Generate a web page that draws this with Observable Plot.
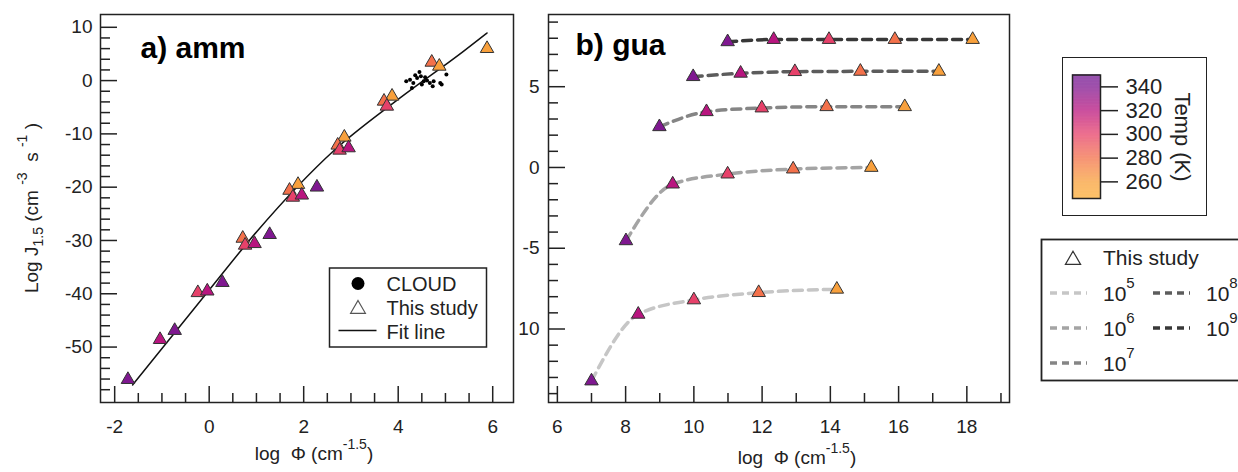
<!DOCTYPE html>
<html><head><meta charset="utf-8">
<script src="https://cdn.jsdelivr.net/npm/d3@7"></script>
<script src="https://cdn.jsdelivr.net/npm/@observablehq/plot@0.6"></script>
<style>
body{margin:0;background:#fff;font-family:"Liberation Sans",Arial,sans-serif;}
#wrap{position:relative;width:1238px;height:472px;overflow:hidden;background:#fff;}
</style></head><body><div id="wrap"></div>
<script>
// ---------------- data ----------------
// temperature colour stops (K)
const tempStops = [246, 260, 280, 300, 320, 340, 350];
const colorStops = ["#fbad37", "#f8a03c", "#f3714b", "#e6416a", "#b8157f", "#7f1890", "#731a94"];

// panel a (amm): this study
const ammPhi  = [5.88, 4.71, 4.87, 3.87, 3.70, 3.76, 2.86, 2.72, 2.76, 2.95, 1.88, 1.70, 1.77, 1.96, 2.28, 0.71, 0.76, 0.96, 1.28, -0.24, -0.04, 0.28, -1.04, -0.73, -1.72];
const ammJ    = [6.0, 3.43, 2.68, -2.94, -3.88, -4.82, -10.63, -12.13, -13.07, -12.63, -19.5, -20.6, -21.9, -21.5, -20.0, -29.6, -30.9, -30.6, -28.9, -39.8, -39.5, -37.9, -48.6, -46.9, -56.1];
const ammTemp = [260, 280, 260, 260, 280, 300, 260, 280, 300, 320, 260, 280, 300, 320, 340, 280, 300, 320, 340, 300, 320, 340, 320, 340, 340];
// panel a: CLOUD
const cloudPhi = [4.17, 4.25, 4.32, 4.40, 4.48, 4.54, 4.61, 4.67, 4.75, 4.89, 4.92, 5.02, 4.29, 4.50, 4.73, 4.45, 4.36, 4.57];
const cloudJ   = [-0.13, 0.18, -0.45, 0.49, 0.81, -0.13, 0.0, -0.45, -0.13, -0.45, -0.75, 1.12, -1.38, -0.75, -1.07, 1.6, 1.0, 0.62];
// panel a: fit line
const fitPhi = [-1.62, 0, 1.01, 2.63, 4.04, 5.38, 5.88];
const fitJ   = [-57.1, -39.3, -28.3, -13.2, -3.25, 5.49, 8.93];

// panel b (gua)
const guaSeries = ["10^5", "10^6", "10^7", "10^8", "10^9"];
const guaTemp = [340, 320, 300, 280, 260];
const guaPhi = [
  [7.0, 8.37, 10.0, 11.9, 14.19],
  [8.01, 9.38, 10.99, 12.91, 15.2],
  [8.99, 10.37, 11.99, 13.89, 16.18],
  [9.98, 11.37, 12.96, 14.88, 17.18],
  [10.99, 12.34, 13.96, 15.89, 18.17]
];
const guaJ = [
  [-13.22, -9.09, -8.2, -7.75, -7.54],
  [-4.54, -1.03, -0.41, -0.10, 0.0],
  [2.52, 3.45, 3.68, 3.76, 3.76],
  [5.62, 5.83, 5.93, 5.95, 5.95],
  [7.78, 7.92, 7.92, 7.92, 7.92]
];

// ticks
const xTicksA = [-2, 0, 2, 4, 6];
const xMinorA = [-1.5, -1, -0.5, 0.5, 1, 1.5, 2.5, 3, 3.5, 4.5, 5, 5.5];
const yTicksA = [10, 0, -10, -20, -30, -40, -50];
const yMinorA = [8, 6, 4, 2, -2, -4, -6, -8, -12, -14, -16, -18, -22, -24, -26, -28, -32, -34, -36, -38, -42, -44, -46, -48, -52, -54, -56, -58];
const xTicksB = [6, 8, 10, 12, 14, 16, 18];
const xMinorB = [7, 9, 11, 13, 15, 17, 19];
const yTicksB = [5, 0, -5, -10];
const yMinorB = [9, 8, 7, 6, 4, 3, 2, 1, -1, -2, -3, -4, -6, -7, -8, -9, -11, -12, -13, -14];
const cbTicks = [260, 280, 300, 320, 340];

// ---------------- styles ----------------
const FONT = '"Liberation Sans", Arial, sans-serif';
const INK = "#222";
const lineColors = ["#c6c6c6", "#a4a4a4", "#858585", "#5c5c5c", "#383838"];
const wrap = document.getElementById("wrap");
const colorScale = {type: "linear", domain: tempStops, range: colorStops};
const fmt = d => String(d);

function place(el, left, top) {
  el.style.position = "absolute";
  el.style.left = left + "px";
  el.style.top = top + "px";
  wrap.appendChild(el);
  return el;
}

// ---------------- panel a ----------------
const H = 472;
const WA = 520, mA = {t: 14, r: 7, b: 70, l: 100};
const innerWA = WA - mA.l - mA.r, innerHA = H - mA.t - mA.b;
const ammData = ammPhi.map((x, i) => ({x, y: ammJ[i], t: ammTemp[i]}));
const cloudData = cloudPhi.map((x, i) => ({x, y: cloudJ[i]}));
const fitData = fitPhi.map((x, i) => ({x, y: fitJ[i]}));

const plotA = Plot.plot({
  width: WA, height: H,
  marginTop: mA.t, marginRight: mA.r, marginBottom: mA.b, marginLeft: mA.l,
  x: {domain: [-2.30, 6.44]},
  y: {domain: [-60.4, 12.4]},
  color: colorScale,
  style: {fontFamily: FONT, fontSize: "19px", color: INK, background: "white", overflow: "visible"},
  marks: [
    Plot.axisX(xTicksA, {tickSize: 0, tickPadding: 17, label: null, fontSize: 19, tickFormat: fmt}),
    Plot.axisY(yTicksA, {tickSize: 0, tickPadding: 8, label: null, fontSize: 19, tickFormat: fmt}),
    Plot.tickX(xTicksA, {x: d => d, insetTop: innerHA - 16, stroke: INK, strokeWidth: 1.5}),
    Plot.tickX(xMinorA, {x: d => d, insetTop: innerHA - 9, stroke: INK, strokeWidth: 1.5}),
    Plot.tickY(yTicksA, {y: d => d, insetRight: innerWA - 17, stroke: INK, strokeWidth: 1.5}),
    Plot.tickY(yMinorA, {y: d => d, insetRight: innerWA - 10, stroke: INK, strokeWidth: 1.5}),
    Plot.line(fitData, {x: "x", y: "y", stroke: "#111", strokeWidth: 1.5, curve: "monotone-x"}),
    Plot.dot(cloudData, {x: "x", y: "y", r: 2, fill: "#000"}),
    Plot.dot(ammData, {x: "x", y: "y", fill: "t", symbol: "triangle", r: 5, stroke: "#333", strokeWidth: 1}),
    Plot.frame({stroke: INK, strokeWidth: 1.5}),
    Plot.text(["a) amm"], {frameAnchor: "top-left", dx: 40, dy: 22, textAnchor: "start", lineAnchor: "top", fontSize: 30, fontWeight: "bold", fill: "#000"})
  ]
});
place(plotA, 0, 0);

{
  const svg = d3.select(plotA);
  // x title
  const xt = svg.append("text").attr("x", 314).attr("y", 460).attr("text-anchor", "middle")
    .attr("font-size", 19).attr("fill", INK).attr("font-family", FONT);
  xt.append("tspan").text("log  Φ (cm");
  xt.append("tspan").attr("dy", -11).attr("font-size", 14).text("-1.5");
  xt.append("tspan").attr("dy", 11).text(")");
  // y title
  const yt = svg.append("text").attr("transform", "translate(38,208) rotate(-90)")
    .attr("text-anchor", "middle").attr("font-size", 19).attr("fill", INK).attr("font-family", FONT);
  yt.append("tspan").text("Log J");
  yt.append("tspan").attr("dy", 5).attr("font-size", 14).text("1.5");
  yt.append("tspan").attr("dy", -5).text(" (cm ");
  yt.append("tspan").attr("dy", -11).attr("font-size", 14).text("-3");
  yt.append("tspan").attr("dy", 11).text("  s ");
  yt.append("tspan").attr("dy", -11).attr("font-size", 14).text("-1");
  yt.append("tspan").attr("dy", 11).text(" )");
  // legend
  const g = svg.append("g").attr("font-family", FONT).attr("font-size", 20).attr("fill", INK)
    .attr("text-anchor", "start");
  g.append("rect").attr("x", 329.5).attr("y", 268).attr("width", 157).attr("height", 79)
    .attr("fill", "white").attr("stroke", INK).attr("stroke-width", 1.5);
  g.append("circle").attr("cx", 358).attr("cy", 283.5).attr("r", 6.5).attr("fill", "#000");
  g.append("path").attr("d", d3.symbol(d3.symbolTriangle, 95)()).attr("transform", "translate(358,309)")
    .attr("fill", "none").attr("stroke", "#555").attr("stroke-width", 1.2);
  g.append("line").attr("x1", 338.5).attr("x2", 376.5).attr("y1", 330.5).attr("y2", 330.5)
    .attr("stroke", "#111").attr("stroke-width", 1.5);
  [["CLOUD", 284], ["This study", 307.5], ["Fit line", 332]].forEach(([t, y]) => {
    g.append("text").attr("x", 386.5).attr("y", y).attr("dy", "0.36em").attr("text-anchor", "start").text(t);
  });
}

// ---------------- panel b ----------------
const LB = 518, WB = 499, mB = {t: 14, r: 8, b: 70, l: 30};
const innerWB = WB - mB.l - mB.r, innerHB = H - mB.t - mB.b;
const guaPts = guaSeries.flatMap((s, k) => guaPhi[k].map((x, i) => ({s, x, y: guaJ[k][i], t: guaTemp[i]})));

const plotB = Plot.plot({
  width: WB, height: H,
  marginTop: mB.t, marginRight: mB.r, marginBottom: mB.b, marginLeft: mB.l,
  x: {domain: [5.74, 19.25]},
  y: {domain: [-14.55, 9.47]},
  color: colorScale,
  style: {fontFamily: FONT, fontSize: "19px", color: INK, background: "white", overflow: "hidden"},
  marks: [
    Plot.axisX(xTicksB, {tickSize: 0, tickPadding: 17, label: null, fontSize: 19, tickFormat: fmt}),
    Plot.axisY(yTicksB, {tickSize: 0, tickPadding: 9, label: null, fontSize: 19, tickFormat: fmt}),
    Plot.tickX(xTicksB, {x: d => d, insetTop: innerHB - 16, stroke: INK, strokeWidth: 1.5}),
    Plot.tickX(xMinorB, {x: d => d, insetTop: innerHB - 9, stroke: INK, strokeWidth: 1.5}),
    Plot.tickY(yTicksB, {y: d => d, insetRight: innerWB - 17, stroke: INK, strokeWidth: 1.5}),
    Plot.tickY(yMinorB, {y: d => d, insetRight: innerWB - 10, stroke: INK, strokeWidth: 1.5}),
    ...guaSeries.map((s, k) => Plot.line(guaPts.filter(d => d.s === s), {
      x: "x", y: "y", stroke: lineColors[k], strokeWidth: 3.5, strokeDasharray: "9,6", curve: "monotone-x"
    })),
    Plot.dot(guaPts, {x: "x", y: "y", fill: "t", symbol: "triangle", r: 5, stroke: "#333", strokeWidth: 1}),
    Plot.frame({stroke: INK, strokeWidth: 1.5}),
    Plot.text(["b) gua"], {frameAnchor: "top-left", dx: 27, dy: 19, textAnchor: "start", lineAnchor: "top", fontSize: 30, fontWeight: "bold", fill: "#000"})
  ]
});
place(plotB, LB, 0);
{
  const svg = d3.select(plotB);
  const xt = svg.append("text").attr("x", 797 - LB).attr("y", 464).attr("text-anchor", "middle")
    .attr("font-size", 19).attr("fill", INK).attr("font-family", FONT);
  xt.append("tspan").text("log  Φ (cm");
  xt.append("tspan").attr("dy", -11).attr("font-size", 14).text("-1.5");
  xt.append("tspan").attr("dy", 11).text(")");
}

// ---------------- colour bar ----------------
const cbBox = document.createElement("div");
cbBox.style.cssText = "position:absolute;left:1062px;top:57px;width:145px;height:159px;border:1.5px solid #222;box-sizing:border-box;background:#fff;";
wrap.appendChild(cbBox);
const cbVals = d3.range(246, 350, 0.5);
const plotCB = Plot.plot({
  width: 142, height: 156,
  marginTop: 16.5, marginBottom: 16, marginLeft: 9, marginRight: 105,
  x: {domain: [0, 1], axis: null},
  y: {domain: [246, 350]},
  color: colorScale,
  style: {fontFamily: FONT, fontSize: "22px", color: INK, background: "white", overflow: "visible"},
  marks: [
    Plot.rect(cbVals, {x1: 0, x2: 1, y1: d => d, y2: d => d + 0.5, fill: d => d + 0.25}),
    Plot.axisY(cbTicks, {anchor: "right", tickSize: 17, tickPadding: 8, label: null, fontSize: 22, strokeWidth: 1.5, tickFormat: fmt}),
    Plot.frame({stroke: INK, strokeWidth: 1.5})
  ]
});
plotCB.style.position = "absolute";
plotCB.style.left = "0px";
plotCB.style.top = "0px";
cbBox.appendChild(plotCB);
d3.select(plotCB).append("text").attr("transform", "translate(120,79) rotate(90)")
  .attr("text-anchor", "middle").attr("dy", "0.35em").attr("font-size", 22).attr("fill", INK)
  .attr("font-family", FONT).text("Temp (K)");

// ---------------- line legend ----------------
const lg = d3.select(wrap).append("svg").attr("width", 200).attr("height", 145)
  .style("position", "absolute").style("left", "1040px").style("top", "238px")
  .attr("font-family", FONT).attr("font-size", 21).attr("fill", INK);
lg.append("rect").attr("x", 1.5).attr("y", 1.5).attr("width", 230).attr("height", 141)
  .attr("fill", "white").attr("stroke", INK).attr("stroke-width", 1.8);
lg.append("path").attr("d", d3.symbol(d3.symbolTriangle, 100)()).attr("transform", "translate(33,22)")
  .attr("fill", "none").attr("stroke", "#333").attr("stroke-width", 1.2);
lg.append("text").attr("x", 63).attr("y", 27).text("This study");
const legendPos = [[10, 55], [10, 90], [10, 125], [113, 55], [113, 90]];
guaSeries.forEach((s, k) => {
  const [x, y] = legendPos[k];
  lg.append("line").attr("x1", x).attr("x2", x + 37).attr("y1", y).attr("y2", y)
    .attr("stroke", lineColors[k]).attr("stroke-width", 3.5).attr("stroke-dasharray", "7,5");
  const t = lg.append("text").attr("x", x + 53).attr("y", y + 8);
  t.append("tspan").text("10");
  t.append("tspan").attr("dy", -13).attr("font-size", 15).text(s.split("^")[1]);
});
</script></body></html>
